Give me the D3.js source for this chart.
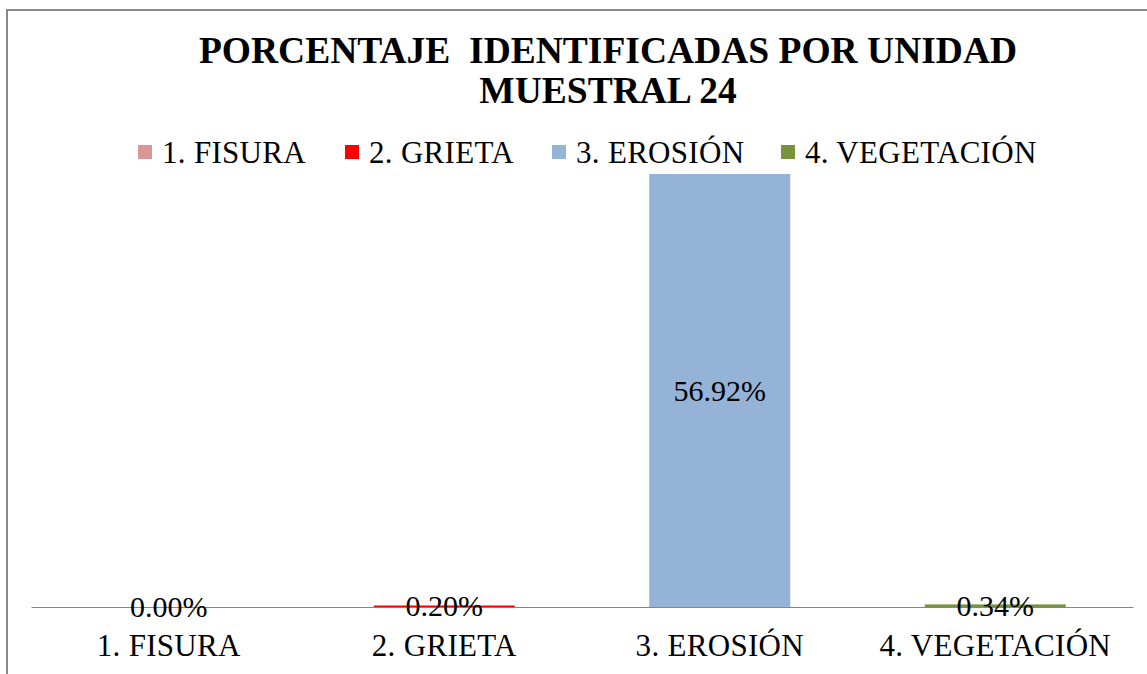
<!DOCTYPE html>
<html>
<head>
<meta charset="utf-8">
<script src="https://cdn.jsdelivr.net/npm/d3@7"></script>
<style>
  html, body { margin: 0; padding: 0; background: #fff; }
  svg { display: block; }
  text { font-family: "Liberation Serif", "Times New Roman", "DejaVu Serif", serif; fill: #000; }
</style>
</head>
<body>
<svg id="chart" width="1147" height="674"></svg>
<script>
// Damage categories and their share in sampling unit 24 (%)
const categories = ["1. FISURA", "2. GRIETA", "3. EROSIÓN", "4. VEGETACIÓN"];
const values = [0.00, 0.20, 56.92, 0.34];
const colors = ["#D99694", "#FF0000", "#95B3D7", "#77933C"];
const titleLines = ["PORCENTAJE  IDENTIFICADAS POR UNIDAD", "MUESTRAL 24"];

const FONT = "'Liberation Serif', 'Times New Roman', 'DejaVu Serif', serif";
const svg = d3.select("#chart");
const W = 1147, H = 674;

// Outer chart frame
svg.append("rect")
  .attr("x", 7).attr("y", 10)
  .attr("width", W + 20).attr("height", H + 20)
  .attr("fill", "#fff")
  .attr("stroke", "#898989")
  .attr("stroke-width", 2);

// Title
const title = svg.append("text")
  .attr("text-anchor", "middle")
  .attr("font-weight", "bold")
  .attr("font-size", 37.5)
  .style("white-space", "pre");
title.selectAll("tspan").data(titleLines).join("tspan")
  .attr("x", 608)
  .attr("y", (d, i) => 63 + i * 40)
  .text(d => d);

// Legend
const legendX = [138, 345, 552, 781];
const legend = svg.append("g");
const li = legend.selectAll("g").data(categories).join("g")
  .attr("transform", (d, i) => `translate(${legendX[i]},0)`);
li.append("rect")
  .attr("x", 0).attr("y", 145)
  .attr("width", 14).attr("height", 14)
  .attr("fill", (d, i) => colors[i]);
li.append("text")
  .attr("x", 24).attr("y", 163)
  .attr("font-size", 31)
  .attr("letter-spacing", 0.3)
  .text(d => d);

// Plot scales
const plotLeft = 31, plotRight = 1133, baseY = 607, topY = 174;
const x = d3.scaleBand()
  .domain(categories)
  .range([plotLeft, plotRight])
  .paddingInner(0.488)
  .paddingOuter(0.244);
const y = d3.scaleLinear()
  .domain([0, d3.max(values)])
  .range([baseY, topY]);

const data = categories.map((c, i) => ({ cat: c, val: values[i], color: colors[i] }));

// Bars
svg.append("g").selectAll("rect").data(data).join("rect")
  .attr("x", d => x(d.cat))
  .attr("width", x.bandwidth())
  .attr("y", d => y(d.val))
  .attr("height", d => baseY - y(d.val))
  .attr("fill", d => d.color);

// Category axis
const axis = svg.append("g")
  .attr("transform", `translate(0,${baseY})`)
  .call(d3.axisBottom(x).tickSize(0).tickPadding(0).tickSizeOuter(0));
axis.attr("font-family", FONT);
axis.select(".domain").attr("stroke", "#868686").attr("stroke-width", 1.2);
axis.selectAll(".tick text")
  .attr("font-family", FONT)
  .attr("font-size", 31)
  .attr("letter-spacing", 0.3)
  .attr("fill", "#000")
  .attr("dy", null)
  .attr("y", 49);

// Value labels, centred in each bar
svg.append("g").selectAll("text").data(data).join("text")
  .attr("x", d => x(d.cat) + x.bandwidth() / 2)
  .attr("y", d => (y(d.val) + baseY) / 2 + 10)
  .attr("text-anchor", "middle")
  .attr("font-size", 30)
  .text(d => d.val.toFixed(2) + "%");
</script>
</body>
</html>
